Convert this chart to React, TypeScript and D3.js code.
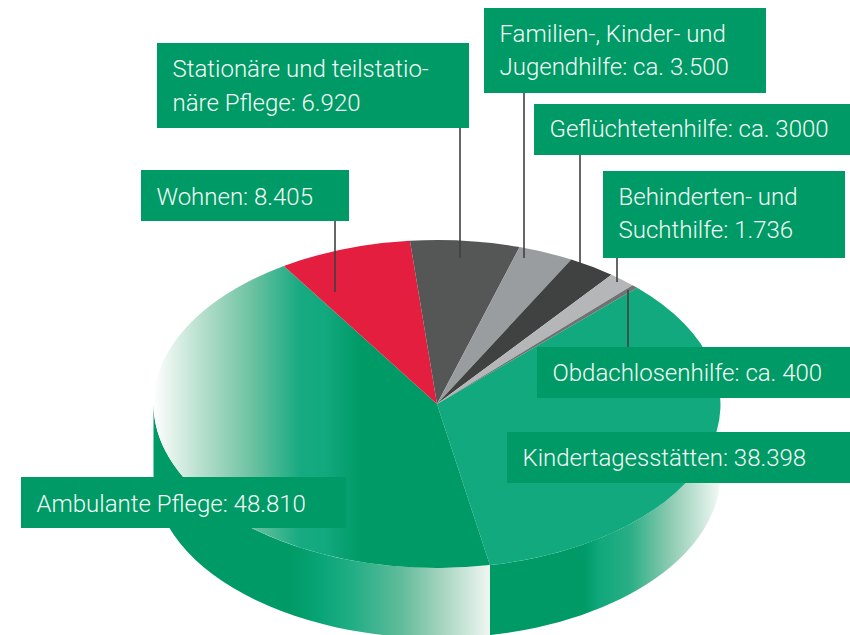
import React from "react";
import * as d3 from "d3";

const categories = ["Kindertagesstätten","Ambulante Pflege","Wohnen","Stationäre Pflege","Familien-, Kinder- und Jugendhilfe","Geflüchtetenhilfe","Behinderten- und Suchthilfe","Obdachlosenhilfe"];
const values = [38398,48810,8405,6920,3500,3000,1736,400];
const labelLines = [
  ["Kindertagesstätten: 38.398"],
  ["Ambulante Pflege: 48.810"],
  ["Wohnen: 8.405"],
  ["Stationäre und teilstatio-","näre Pflege: 6.920"],
  ["Familien-, Kinder- und","Jugendhilfe: ca. 3.500"],
  ["Geflüchtetenhilfe: ca. 3000"],
  ["Behinderten- und","Suchthilfe: 1.736"],
  ["Obdachlosenhilfe: ca. 400"],
];

// layout only
const boxes = [
  [507,432,343,51],[21,477,325,51],[141,170,208,51],[157,43,312,85],
  [484,8,282,85],[534,104,316,51],[603,171,242,87],[537,347,313,51],
];
const baselines = [[466],[512],[205],[77,111],[42,75],[137],[205,238],[381]];
const leaders = [null,null,[335,221,292],[460,128,258],[524,93,258],[580,155,270],[617,258,282],[628,290,347]];
const sliceFills = ["#12a97f","url(#topAmb)","#e31e3f","#545755","#9a9da0","#3f4240","#b5b6b8","#6f7374"];
const sideFills = ["url(#sideKin)","url(#sideAmb)"];

const cx = 437, cy = 404, rx = 283.5, ry = 164, depth = 70;
const px = (a: number) => cx + rx * Math.sin(a);
const py = (a: number) => cy - ry * Math.cos(a);

function Grad({id,stops}:{id:string,stops:[number,string][]}) {
  const x1 = stops[0][0], x2 = stops[stops.length-1][0];
  return <linearGradient id={id} gradientUnits="userSpaceOnUse" x1={x1} x2={x2} y1={0} y2={0}>
    {stops.map(([x,c],i)=><stop key={i} offset={(x-x1)/(x2-x1)} stopColor={c}/>)}
  </linearGradient>;
}

export default function App() {
  const start = 44.9 * Math.PI/180;
  const arcs = d3.pie<number>().sort(null).startAngle(start).endAngle(start+2*Math.PI)(values);
  const slice = (a0:number,a1:number)=>`M${cx},${cy}L${px(a0)},${py(a0)}A${rx},${ry} 0 ${a1-a0>Math.PI?1:0} 1 ${px(a1)},${py(a1)}Z`;
  const sides = [0,1].map(i=>{
    const a0 = Math.max(arcs[i].startAngle, Math.PI/2);
    const a1 = Math.min(arcs[i].endAngle, 3*Math.PI/2);
    return `M${px(a0)},${py(a0)}A${rx},${ry} 0 0 1 ${px(a1)},${py(a1)}L${px(a1)},${py(a1)+depth}A${rx},${ry} 0 0 0 ${px(a0)},${py(a0)+depth}Z`;
  });
  return (
    <svg width={850} height={635} style={{position:"absolute",left:0,top:0,background:"#fff"}}>
      <defs>
        <Grad id="topAmb" stops={[[153,"#ffffff"],[200,"#b9e0cf"],[250,"#6fc3a3"],[300,"#17aa81"],[325,"#12a97f"],[360,"#009a66"],[720,"#009a66"]]}/>
        <Grad id="sideAmb" stops={[[153,"#009a66"],[290,"#009a66"],[323,"#0aa578"],[353,"#22ae85"],[400,"#5fbb9a"],[440,"#a3d3bd"],[492,"#f2f8f5"]]}/>
        <Grad id="sideKin" stops={[[492,"#009a66"],[585,"#009a66"],[600,"#10a87c"],[630,"#2aae85"],[670,"#8ccbb1"],[720,"#f2f8f5"]]}/>
      </defs>
      {sides.map((d,i)=><path key={i} d={d} fill={sideFills[i]}/>)}
      {arcs.map((a,i)=><path key={categories[i]} d={slice(a.startAngle,a.endAngle)} fill={sliceFills[i]}/>)}
      {leaders.map((l,i)=>l && <line key={i} x1={l[0]} x2={l[0]} y1={l[1]} y2={l[2]} stroke="#3f4140" strokeWidth={1.6}/>)}
      {boxes.map((b,i)=><rect key={i} x={b[0]} y={b[1]} width={b[2]} height={b[3]} fill="#009a66"/>)}
      {labelLines.map((ls,i)=>ls.map((t,j)=>
        <text key={i+"-"+j} x={boxes[i][0]+15.5} y={baselines[i][j]} fill="#f4faf6" fontFamily="Roboto" fontWeight={300} fontSize={24} style={{whiteSpace:"pre"}}>{t}</text>
      ))}
    </svg>
  );
}
